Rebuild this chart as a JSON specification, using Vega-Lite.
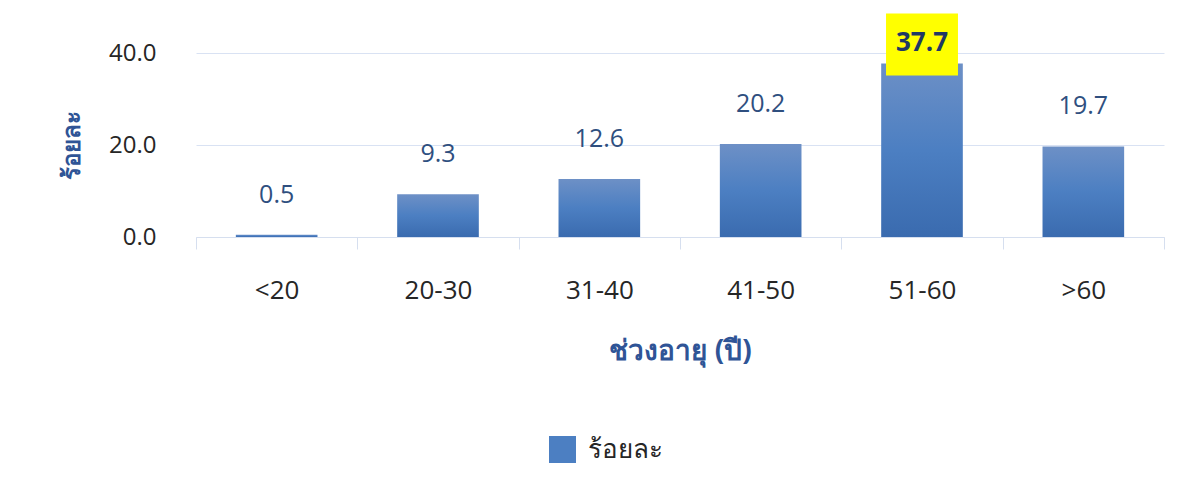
{
  "$schema": "https://vega.github.io/schema/vega-lite/v6.json",
  "width": 968,
  "height": 184,
  "padding": {"left": 60, "top": 13, "right": 20, "bottom": 10},
  "config": {"font": "Open Sans", "view": {"stroke": null}},
  "data": {"values": [
    {"age": "<20", "pct": 0.5, "series": "ร้อยละ"},
    {"age": "20-30", "pct": 9.3, "series": "ร้อยละ"},
    {"age": "31-40", "pct": 12.6, "series": "ร้อยละ"},
    {"age": "41-50", "pct": 20.2, "series": "ร้อยละ"},
    {"age": "51-60", "pct": 37.7, "series": "ร้อยละ"},
    {"age": ">60", "pct": 19.7, "series": "ร้อยละ"}
  ]},
  "encoding": {
    "x": {
      "field": "age", "type": "nominal", "sort": null,
      "scale": {"paddingInner": 0, "paddingOuter": 0},
      "axis": {
        "title": "ช่วงอายุ (ปี)", "labelAngle": 0, "tickBand": "extent", "tickSize": 12,
        "tickColor": "#D6DFEF", "domainColor": "#D6DFEF", "labelFontSize": 26, "labelColor": "#262626",
        "labelPadding": 28, "titleFontSize": 28, "titleFontWeight": "bold", "titleColor": "#2F5496",
        "titlePadding": 34, "grid": false
      }
    }
  },
  "layer": [
    {
      "mark": {"type": "bar", "width": {"band": 0.506}, "fill": {"gradient": "linear", "x1": 0, "y1": 0, "x2": 0, "y2": 1, "stops": [{"offset": 0, "color": "#6D90C6"}, {"offset": 0.5, "color": "#4C7FC2"}, {"offset": 1, "color": "#3A6BAF"}]}},
      "encoding": {
        "y": {
          "field": "pct", "type": "quantitative",
          "scale": {"domain": [0, 40], "nice": false},
          "axis": {
            "title": "ร้อยละ", "values": [0, 20, 40], "format": ".1f", "domain": false, "ticks": false,
            "labelPadding": 40, "labelFontSize": 24, "labelColor": "#262626", "gridColor": "#D9E2F3",
            "titleFontSize": 24, "titleFontWeight": "bold", "titleColor": "#2F5496", "titlePadding": 24
          }
        }
      }
    },
    {
      "mark": {"type": "bar", "width": {"band": 0.506}, "opacity": 0},
      "encoding": {
        "y": {"field": "pct", "type": "quantitative"},
        "color": {
          "field": "series", "type": "nominal",
          "scale": {"range": ["#4C7FC2"]},
          "legend": {
            "orient": "none", "legendX": 353, "legendY": 383, "title": null, "symbolType": "square", "symbolSize": 729, "symbolOpacity": 1,
            "labelFontSize": 26, "labelColor": "#262626", "labelOffset": 12, "symbolStrokeWidth": 0
          }
        }
      }
    },
    {
      "transform": [{"filter": "datum.age == '51-60'"}],
      "mark": {"type": "bar", "color": "#FFFF00", "width": {"band": 0.446}, "yOffset": -50, "y2Offset": 12},
      "encoding": {
        "y": {"field": "pct", "type": "quantitative"},
        "y2": {"field": "pct"}
      }
    },
    {
      "transform": [{"filter": "datum.age != '51-60'"}],
      "mark": {"type": "text", "dy": -40, "fontSize": 25, "color": "#2F4F7F", "baseline": "middle"},
      "encoding": {
        "y": {"field": "pct", "type": "quantitative"},
        "text": {"field": "pct", "type": "quantitative", "format": ".1f"}
      }
    },
    {
      "transform": [{"filter": "datum.age == '51-60'"}],
      "mark": {"type": "text", "dy": -21, "fontSize": 26, "fontWeight": "bold", "color": "#1F3864", "baseline": "middle"},
      "encoding": {
        "y": {"field": "pct", "type": "quantitative"},
        "text": {"field": "pct", "type": "quantitative", "format": ".1f"}
      }
    }
  ]
}
